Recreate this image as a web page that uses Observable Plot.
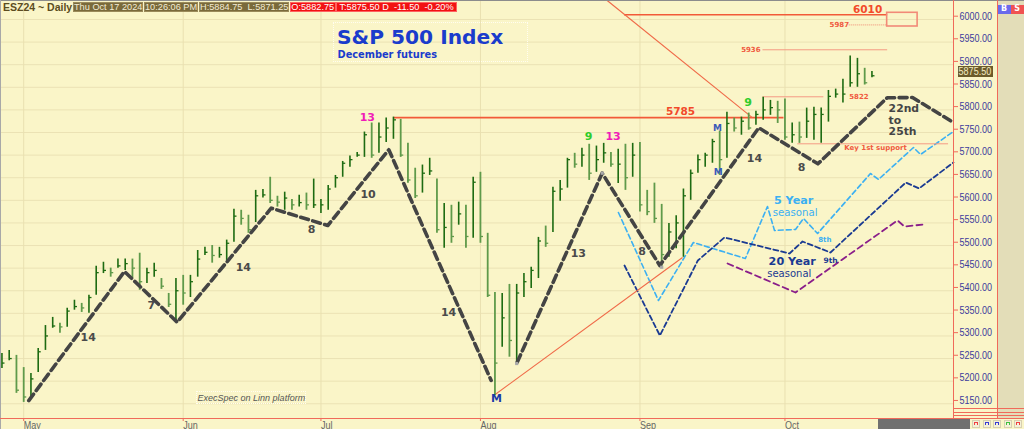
<!DOCTYPE html>
<html><head><meta charset="utf-8">
<script src="https://cdn.jsdelivr.net/npm/d3@7"></script>
<script src="https://cdn.jsdelivr.net/npm/@observablehq/plot@0.6"></script>
<style>
html,body{margin:0;padding:0;background:#faf5c8;}
#wrap{position:relative;width:1024px;height:429px;overflow:hidden;background:#faf5c8;font-family:"Liberation Sans",Arial,sans-serif;}
#wrap svg{position:absolute;left:0;top:0;}
.d{position:absolute;}
.hdr{position:absolute;top:2px;height:10px;line-height:9px;font-size:9.2px;color:#f3ecd4;background:#7a6a3b;white-space:pre;text-align:center;box-sizing:border-box;border:1px solid #9a8a5a;}
.red{background:#f21212;color:#fff;border-color:#ff6060;}
</style></head>
<body><div id="wrap"></div>
<script>
// ---------- data ----------
const firstBarIndex = -3;              // trading-day index of first bar (May 1 2024 = 0)
const highs = [5261,5268,5257,
 5230,5217,5272,5323,5341,5328,5361,5379,5372,5390,
 5454,5463,5450,5470,5470,5470,5483,5450,5461,5427,
 5394,5427,5434,5434,5489,5496,5500,5496,5512,5580,
 5578,5567,5622,5624,5651,5609,5618,5602,5611,5616,
 5647,5602,5633,5655,5686,5698,5706,5751,5771,5771,
 5782,5784,5779,5726,5671,5678,5693,5647,5593,5589,
 5596,5589,5651,5662,5527,5396,5394,5414,5414,5438,
 5452,5518,5543,5629,5644,5693,5704,5715,5724,5720,
 5726,5706,5713,5724,5726,5728,5622,5638,5591,5549,
 5566,5625,5667,5700,5704,5735,5753,5795,5782,5784,
 5793,5797,5828,5821,5819,5824,5771,5773,5804,5806,
 5804,5843,5846,5868,5919,5914,5892,5884.75];
const lows = [5228,5245,5173,
 5153,5164,5219,5268,5317,5306,5319,5357,5352,5350,
 5390,5438,5430,5450,5445,5427,5401,5416,5430,5403,
 5363,5334,5368,5385,5430,5478,5461,5472,5467,5507,
 5545,5527,5551,5605,5593,5585,5578,5578,5585,5578,
 5582,5571,5578,5627,5651,5673,5695,5695,5693,5704,
 5728,5735,5695,5638,5604,5616,5655,5527,5494,5505,
 5545,5494,5516,5505,5385,5168,5275,5253,5239,5385,
 5405,5427,5496,5529,5598,5627,5671,5673,5644,5662,
 5682,5673,5637,5622,5651,5574,5566,5549,5452,5474,
 5493,5474,5600,5660,5673,5682,5655,5693,5751,5744,
 5755,5766,5777,5788,5770,5733,5726,5726,5737,5733,
 5726,5773,5826,5815,5850,5850,5855,5871.25];
const closes = [5240,5250,5180,
 5165,5205,5265,5300,5322,5320,5355,5365,5362,5385,
 5440,5445,5440,5455,5460,5450,5420,5440,5445,5410,
 5370,5400,5395,5420,5470,5485,5478,5480,5505,5565,
 5560,5535,5610,5612,5600,5596,5605,5590,5595,5590,
 5590,5590,5625,5650,5682,5690,5700,5745,5700,5740,
 5760,5778,5700,5645,5610,5660,5665,5535,5540,5520,
 5570,5520,5640,5520,5390,5240,5340,5290,5395,5420,
 5445,5510,5505,5620,5625,5690,5680,5700,5660,5690,
 5705,5680,5680,5650,5700,5590,5575,5560,5480,5530,
 5550,5610,5660,5690,5700,5730,5690,5770,5760,5775,
 5760,5790,5800,5805,5800,5740,5745,5740,5775,5790,
 5790,5830,5835,5835,5860,5880,5860,5875.5];

const monthTicks = [0, 22, 41, 63, 85, 105];
const monthLabels = ["May", "Jun", "Jul", "Aug", "Sep", "Oct"];
const priceTicks = [5150,5200,5250,5300,5350,5400,5450,5500,5550,5600,5650,5700,5750,5800,5850,5900,5950,6000];
const lastPrice = 5875.50;

// cycle projection (black dashed), two segments
const cycleDays   = [0.7, 13.9, 21.17, 34.14, 41.94, 50.36, 64.48, 68.07, 79.79, 87.74, 101.39, 109.55, 119.1, 122.6, 128.25];
const cyclePrices = [5157, 5442.6, 5330.4, 5582.6, 5544.3, 5711.8, 5201.5, 5241.9, 5660, 5455.8, 5760.4, 5680.8, 5826.8, 5827.4, 5772.1];
const cycleSegment = [1,1,1,1,1,1,1,2,2,2,2,2,2,2,2];

// seasonal patterns
const fiveYearDays   = [82.03, 87.55, 92.37, 99.54, 102.59, 103.56, 106.46, 107.56, 109.5, 116.8, 117.9, 122.73, 123.7, 128.25];
const fiveYearPrices = [5573.1, 5378.4, 5506.7, 5471.3, 5586.3, 5533.3, 5535.5, 5559.8, 5526.6, 5659.3, 5646.1, 5716.8, 5701.4, 5752.2];
const twentyYearDays   = [82.87, 87.75, 92.99, 96.66, 105.63, 107.42, 111.28, 121.68, 123.5, 128.25];
const twentyYearPrices = [5455.8, 5301, 5466.9, 5517.8, 5482.4, 5508.9, 5484.6, 5639.4, 5626.2, 5683.7];
const purpleDays   = [97.08, 106.46, 120.52, 121.49, 124.1];
const purplePrices = [5460.3, 5396.1, 5555.4, 5542.1, 5546.5];

// pivot markers
const pivotDays = [68, 88, 79.8];
const pivotPrices = [5239, 5452, 5660];

// price levels
const strongLevels = [ {from: 82.8, to: 119.1, price: 6010.4}, {from: 51, to: 104.8, price: 5783} ];
const lightLevels  = [ {from: 101.9, to: 119.1, price: 5933}, {from: 101.9, to: 110.3, price: 5829}, {from: 106.7, to: 127.5, price: 5725} ];
const dottedLevels = [ {from: 113.8, to: 119.1, price: 5988} ];
const trendLines   = [ {d1: 80.48, p1: 6042, d2: 100.5, p2: 5783}, {d1: 64.84, p1: 5168.3, d2: 90.87, p2: 5473.5} ];
const targetBox    = [ {d1: 119.1, d2: 123.3, p1: 5984.5, p2: 6014.8} ];

// labels
const cycleCounts   = [ {d: 8.9, p: 5297.3, t: "14"}, {d: 17.6, p: 5367.4, t: "7"}, {d: 30.3, p: 5452.1, t: "14"}, {d: 39.7, p: 5534.8, t: "8"},
  {d: 47.5, p: 5612.2, t: "10"}, {d: 58.6, p: 5352.6, t: "14"}, {d: 76.5, p: 5481.7, t: "13"}, {d: 85.3, p: 5486.8, t: "8"},
  {d: 100.8, p: 5693.2, t: "14"}, {d: 107.3, p: 5673.3, t: "8"} ];
const magentaCounts = [ {d: 47.4, p: 5782.5, t: "13"}, {d: 81.3, p: 5741.8, t: "13"} ];
const greenCounts   = [ {d: 77.9, p: 5741.8, t: "9"}, {d: 99.9, p: 5815.7, t: "9"} ];
const mSmall        = [ {d: 95.7, p: 5760.4, t: "M"}, {d: 95.8, p: 5662.2, t: "M"} ];
const mBig          = [ {d: 65.2, p: 5161.7, t: "M"} ];
const bigLevelLabels   = [ {d: 90.6, p: 5796.5, t: "5785"}, {d: 116.4, p: 6021.4, t: "6010"} ];
const smallLevelLabels = [ {d: 112.5, p: 5988.3, t: "5987"}, {d: 100.3, p: 5933, t: "5936"}, {d: 115.2, p: 5829.6, t: "5822"}, {d: 117.5, p: 5716.9, t: "Key 1st support"} ];
const windowLabel = [ {d: 119.3, p: 5777.7, t: "22nd\nto\n25th"} ];
const fiveYearLabel  = [ {d: 106.2, p: 5599.6, t: "5 Year"} ];
const fiveYearSub    = [ {d: 106.4, p: 5573.1, t: "seasonal"}, ];
const fiveYearSmall  = [ {d: 110.5, p: 5513.4, t: "8th"} ];
const twentyYearLabel = [ {d: 106.0, p: 5464.7, t: "20 Year"} ];
const twentyYearSub   = [ {d: 105.6, p: 5438.2, t: "seasonal"} ];
const twentyYearSmall = [ {d: 111.3, p: 5466.9, t: "9th"} ];
const footnote = [ {d: 31.4, p: 5163.2, t: "ExecSpec on Linn platform"} ];

// ---------- build tables ----------
const bars = highs.map((h, k) => ({
  i: firstBarIndex + k, high: h, low: lows[k], close: closes[k],
  up: k === 0 ? true : closes[k] >= closes[k - 1]
}));
const cycle = cycleDays.map((d, k) => ({d, p: cyclePrices[k], s: cycleSegment[k]}));
const five = fiveYearDays.map((d, k) => ({d, p: fiveYearPrices[k]}));
const twenty = twentyYearDays.map((d, k) => ({d, p: twentyYearPrices[k]}));
const purple = purpleDays.map((d, k) => ({d, p: purplePrices[k]}));
const pivots = pivotDays.map((d, k) => ({d, p: pivotPrices[k]}));

const SANS = '"Liberation Sans",Arial,sans-serif';
const BOLD = '"DejaVu Sans",Verdana,sans-serif';
const UP = "#1d6b12", DOWN = "#5f9a4a";
const RED = "#f06a5a";

const chart = Plot.plot({
  width: 1024, height: 429,
  marginLeft: 0, marginRight: 71, marginTop: 0, marginBottom: 11,
  x: {domain: [-3.2, 128.25], label: null},
  y: {domain: [5117.4, 6042], label: null},
  style: {background: "transparent", fontFamily: BOLD, overflow: "visible"},
  marks: [
    Plot.gridY(priceTicks, {stroke: "#ebe2b4", strokeOpacity: 1}),
    Plot.gridX(monthTicks, {stroke: "#e9e0b0", strokeOpacity: 1}),
    Plot.axisY(priceTicks, {anchor: "right", tickSize: 4, tickPadding: 2, stroke: RED, fill: "#3c3c9c",
      tickFormat: d => d.toFixed(2), fontSize: 11, fontFamily: SANS, dy: -3.3, label: null}),
    Plot.axisX(monthTicks, {anchor: "bottom", tickSize: 3, tickPadding: 0, stroke: RED, fill: "#666",
      textAnchor: "start", tickFormat: d => monthLabels[monthTicks.indexOf(d)], fontSize: 11, fontFamily: SANS, label: null}),
    // seasonal lines
    Plot.line(five, {x: "d", y: "p", stroke: "#3cb0f2", strokeWidth: 1.6, strokeDasharray: "5,3"}),
    Plot.line(twenty, {x: "d", y: "p", stroke: "#1a3a92", strokeWidth: 1.8, strokeDasharray: "5,3"}),
    Plot.line(purple, {x: "d", y: "p", stroke: "#8a1e8a", strokeWidth: 1.8, strokeDasharray: "6,4"}),
    // levels
    Plot.link(strongLevels, {x1: "from", x2: "to", y1: "price", y2: "price", stroke: "#f25a38", strokeWidth: 1.6}),
    Plot.link(lightLevels, {x1: "from", x2: "to", y1: "price", y2: "price", stroke: "#f49a84", strokeWidth: 1}),
    Plot.link(dottedLevels, {x1: "from", x2: "to", y1: "price", y2: "price", stroke: "#f28a74", strokeWidth: 1, strokeDasharray: "1,1"}),
    Plot.link(trendLines, {x1: "d1", x2: "d2", y1: "p1", y2: "p2", stroke: "#f06a48", strokeWidth: 1.1}),
    Plot.rect(targetBox, {x1: "d1", x2: "d2", y1: "p1", y2: "p2", fill: "none", stroke: "#f28a78", strokeWidth: 1.6}),
    // price bars
    Plot.ruleX(bars.filter(b => b.up), {x: "i", y1: "low", y2: "high", stroke: UP, strokeWidth: 1.6}),
    Plot.ruleX(bars.filter(b => !b.up), {x: "i", y1: "low", y2: "high", stroke: DOWN, strokeWidth: 1.8}),
    Plot.link(bars.filter(b => b.up), {x1: "i", x2: d => d.i + 0.35, y1: "close", y2: "close", stroke: UP, strokeWidth: 1.3}),
    Plot.link(bars.filter(b => !b.up), {x1: "i", x2: d => d.i + 0.35, y1: "close", y2: "close", stroke: DOWN, strokeWidth: 1.3}),
    // cycle projection
    Plot.line(cycle, {x: "d", y: "p", z: "s", stroke: "#444", strokeWidth: 3.6, strokeDasharray: "8,4.5"}),
    Plot.dot(pivots, {x: "d", y: "p", symbol: "square", r: 1.8, fill: "#a9a9a9", stroke: "none"}),
    // labels
    Plot.text(cycleCounts, {x: "d", y: "p", text: "t", fill: "#4a4a4a", fontSize: 11, fontWeight: "bold", fontFamily: BOLD}),
    Plot.text(magentaCounts, {x: "d", y: "p", text: "t", fill: "#f01cb8", fontSize: 11, fontWeight: "bold", fontFamily: BOLD}),
    Plot.text(greenCounts, {x: "d", y: "p", text: "t", fill: "#30cc2a", fontSize: 11, fontWeight: "bold", fontFamily: BOLD}),
    Plot.text(mSmall, {x: "d", y: "p", text: "t", fill: "#3a5ab8", fontSize: 9, fontWeight: "bold", fontFamily: BOLD}),
    Plot.text(mBig, {x: "d", y: "p", text: "t", fill: "#1a3aa8", fontSize: 11, fontWeight: "bold", fontFamily: BOLD}),
    Plot.text(bigLevelLabels, {x: "d", y: "p", text: "t", fill: "#f24a2a", fontSize: 10.5, fontWeight: "bold", fontFamily: BOLD}),
    Plot.text(smallLevelLabels, {x: "d", y: "p", text: "t", fill: "#f05a40", fontSize: 7, fontWeight: "bold", fontFamily: BOLD}),
    Plot.text(windowLabel, {x: "d", y: "p", text: "t", fill: "#454545", fontSize: 10.8, fontWeight: "bold", fontFamily: BOLD, textAnchor: "start", lineHeight: 1.08}),
    Plot.text(fiveYearLabel, {x: "d", y: "p", text: "t", fill: "#3cb0f2", fontSize: 11.2, fontWeight: "bold", fontFamily: BOLD}),
    Plot.text(fiveYearSub, {x: "d", y: "p", text: "t", fill: "#3cb0f2", fontSize: 10.2, fontFamily: BOLD}),
    Plot.text(fiveYearSmall, {x: "d", y: "p", text: "t", fill: "#3cb0f2", fontSize: 7, fontWeight: "bold", fontFamily: BOLD}),
    Plot.text(twentyYearLabel, {x: "d", y: "p", text: "t", fill: "#1a3a92", fontSize: 11.2, fontWeight: "bold", fontFamily: BOLD}),
    Plot.text(twentyYearSub, {x: "d", y: "p", text: "t", fill: "#1a3a92", fontSize: 10, fontFamily: BOLD}),
    Plot.text(twentyYearSmall, {x: "d", y: "p", text: "t", fill: "#1a3a92", fontSize: 7.5, fontWeight: "bold", fontFamily: BOLD}),
    Plot.text(footnote, {x: "d", y: "p", text: "t", fill: "#555", fontSize: 9, fontStyle: "italic", fontFamily: SANS}),
    // title
    Plot.text(["S&P 500 Index"], {frameAnchor: "top-left", dx: 336.5, dy: 43.3, lineAnchor: "bottom", textAnchor: "start",
      fontSize: 20.2, fontWeight: "bold", fill: "#1a3ccc", fontFamily: BOLD}),
    Plot.text(["December futures"], {frameAnchor: "top-left", dx: 337, dy: 57.5, lineAnchor: "bottom", textAnchor: "start",
      fontSize: 9.8, fontWeight: "bold", fill: "#1a3ccc", fontFamily: BOLD})
  ]
});

const wrap = document.getElementById("wrap");
wrap.appendChild(chart);

// narrow (Arial-Narrow-like) axis labels: condense the Arial glyphs horizontally
d3.select(chart).selectAll('g[aria-label="y-axis tick label"] text, g[aria-label="x-axis tick label"] text').each(function () {
  const w = this.getComputedTextLength();
  if (w > 0) { this.setAttribute("textLength", (w * 0.82).toFixed(2)); this.setAttribute("lengthAdjust", "spacingAndGlyphs"); }
});

function box(left, top, w, h, css, html) {
  const el = document.createElement("div");
  el.className = "d";
  el.style.cssText = `left:${left}px;top:${top}px;width:${w}px;height:${h}px;` + (css || "");
  if (html != null) el.innerHTML = html;
  wrap.appendChild(el);
  return el;
}
// frame decorations
box(0, 0, 1024, 1, "background:#8c8c8c");
box(0, 0, 1, 429, "background:#a8a8a8");
box(952.5, 0, 1.2, 418, "background:" + RED);
box(996.5, 0, 1.2, 418, "background:" + RED);
box(997.7, 1, 26.3, 417, "background:#e3ddb8");
box(0, 417.6, 1024, 1.2, "background:" + RED);
box(953, 407.8, 71, 1, "background:" + RED);
box(953, 411.8, 71, 1, "background:" + RED);
box(953, 415, 71, 1, "background:" + RED);
box(878, 419, 92, 10, "background:#707070");
["#f04040","#3a3ad0","#3a3ad0","#40c040","#f04040"].forEach((c, k) => {
  box(972 + k * 10.5, 420, 8, 8, `background:#f4f0d8;border:1px solid #d8d0b0;box-sizing:border-box`);
  box(974 + k * 10.5, 422, 4, 3, `border:1px solid ${c};border-bottom:none;box-sizing:border-box`);
});
// B / S buttons
box(997.5, 5, 13, 8.5, "background:#6a6aec;color:#fff;font:bold 8px 'DejaVu Sans';text-align:center;line-height:8.5px", "B");
box(1010.5, 5, 13.5, 8.5, "background:#f05252;color:#fff;font:bold 8px 'DejaVu Sans';text-align:center;line-height:8.5px", "S");
// last price tag
box(958, 65.5, 34.5, 11, `background:#6b5b2b;color:#f3ebc2;font:11px ${SANS};line-height:11px;text-align:center;overflow:hidden`,
  `<span style="display:inline-block;transform:scaleX(0.82);transform-origin:50% 50%;margin-left:-6px;margin-right:-6px">${lastPrice.toFixed(2)}</span>`);
// title + footnote frames
box(333, 22, 195, 40, "border:1px dotted #fffdf0;box-sizing:border-box");
box(196, 391, 110, 13, "border:1px dotted #fffdf0;box-sizing:border-box");

// header strip
const hdr = document.createElement("div");
hdr.className = "d";
hdr.style.cssText = "left:3px;top:1px;height:12px;line-height:12px;font:bold 10.5px 'Liberation Sans',Arial,sans-serif;color:#5c4c20;white-space:pre";
hdr.textContent = "ESZ24 ~ Daily";
wrap.appendChild(hdr);
[[73, 70, "Thu Oct 17 2024", ""], [144, 54, "10:26:06 PM", ""], [199, 90, "H:5884.75  L:5871.25", ""],
 [290, 45.5, "O:5882.75", " red"], [336, 121, "T:5875.50 D  -11.50  -0.20%", " red"]].forEach(([l, w, t, c]) => {
  const el = document.createElement("div");
  el.className = "hdr" + c;
  el.style.left = l + "px"; el.style.width = w + "px";
  el.textContent = t;
  wrap.appendChild(el);
});
</script>
</body></html>
